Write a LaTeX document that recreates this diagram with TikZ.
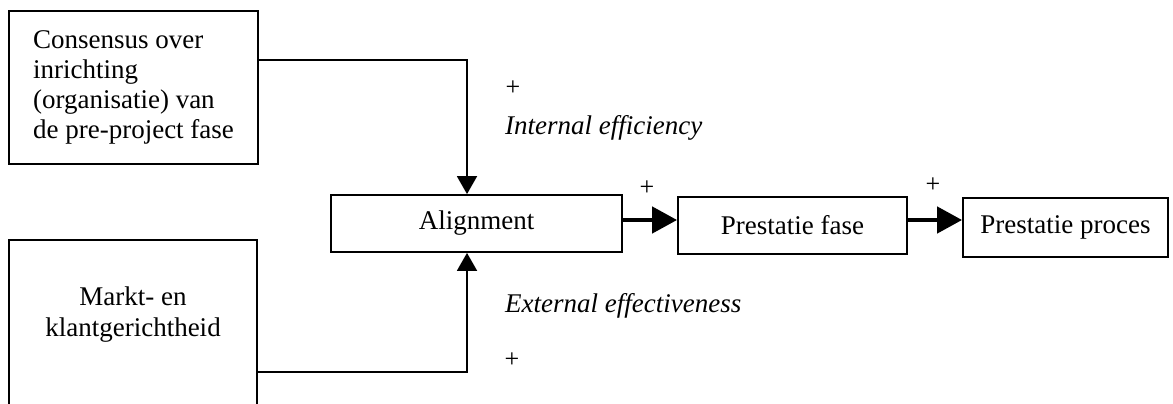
\documentclass[tikz,border=0pt]{standalone}
\usepackage{fontspec}
\setmainfont{Liberation Serif}
\usetikzlibrary{arrows.meta}
\tikzset{
  box/.style={draw, line width=1.8pt, inner sep=0pt, font=\fontsize{27}{30}\selectfont},
  txt/.style={inner sep=0pt, font=\fontsize{27}{31}\selectfont},
  plus/.style={inner sep=0pt, font=\fontsize{26}{28}\selectfont},
  conn/.style={line width=1.8pt, -{Triangle[length=18pt,width=20pt]}},
  flow/.style={line width=4.5pt, -{Triangle[length=25pt,width=26pt]}},
}
\begin{document}
\begin{tikzpicture}[x=1pt,y=-1pt]
\useasboundingbox (0,0) rectangle (1173,404);
\clip (0,0) rectangle (1173,404);
% boxes
\node[box, minimum width=249pt, minimum height=153pt, align=left] (b1) at (133.5,87.5)
  {Consensus over\\inrichting\\(organisatie) van\\de pre-project fase};
\node[box, minimum width=248pt, minimum height=240pt] (b2) at (133,360) {};
\node[txt, align=center] (b2t) at (133,315) {Markt- en\\klantgerichtheid};
\node[box, minimum width=291pt, minimum height=57pt] (al) at (476.5,223.5) {Alignment};
\node[box, minimum width=229pt, minimum height=57pt] (pf) at (792.5,225.5) {Prestatie fase};
\node[box, minimum width=205pt, minimum height=59pt] (pp) at (1065.5,227.5) {Prestatie proces};
% helper coordinates
\coordinate (v) at (467,0);
\coordinate (c1) at (0,60);
\coordinate (c2) at (0,372);
\coordinate (h) at (0,220);
% connectors
\draw[conn] (b1.east |- c1) -| (al.north -| v);
\draw[conn] (b2.east |- c2) -| (al.south -| v);
\draw[flow] (al.east |- h) -- (pf.west |- h);
\draw[flow] (pf.east |- h) -- (pp.west |- h);
% labels
\node[plus] (p1) at (513,88) {+};
\node[txt, anchor=base west, font=\fontsize{27}{31}\selectfont\itshape] (ie) at (505,134) {Internal efficiency};
\node[txt, anchor=base west, font=\fontsize{27}{31}\selectfont\itshape] (ee) at (505,312) {External effectiveness};
\node[plus] (p4) at (512,360) {+};
\node[plus] (p2) at (647,188) {+};
\node[plus] (p3) at (933,185) {+};
\end{tikzpicture}
\end{document}
